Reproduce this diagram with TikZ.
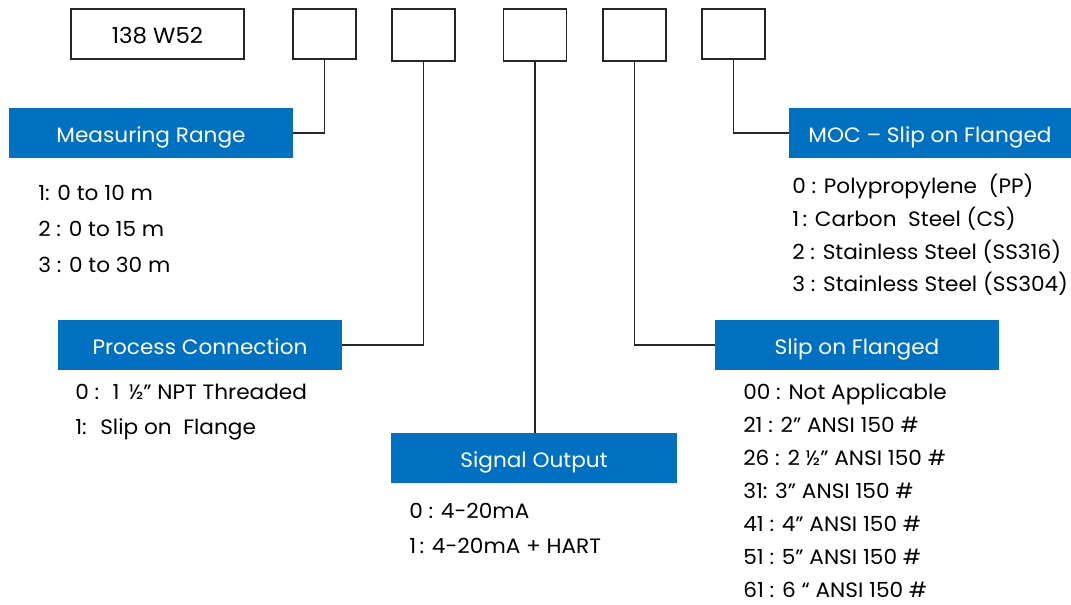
\documentclass[tikz,border=0pt]{standalone}
\usepackage{fontspec}
\setmainfont{Poppins}[FakeStretch=1.04]
\definecolor{hdrblue}{HTML}{0070C0}
\definecolor{ink}{HTML}{262626}

\begin{document}
\begin{tikzpicture}[x=0.75pt,y=-0.75pt,
  codebox/.style={draw=ink, line width=1.4pt, fill=white, inner sep=0pt,
    minimum width=47.25pt, minimum height=37.5pt, text height=14pt, text depth=0pt,
    font=\fontsize{16.5}{20}\selectfont},
  header/.style={fill=hdrblue, text=white, inner sep=0pt, minimum width=213pt,
    minimum height=37.5pt, text height=14.4pt, text depth=0pt,
    font=\fontsize{15.6}{18}\selectfont},
  item/.style={anchor=base west, inner sep=0pt, text=black,
    font=\fontsize{15.6}{18}\selectfont},
  link/.style={draw=ink, line width=1.4pt}
]
\useasboundingbox (0,0) rectangle (1071,605);

% order code boxes
\node[codebox, minimum width=129.75pt] (b0) at (157.5,34) {138 W52};
\node[codebox] (b1) at (324.5,34) {};
\node[codebox, minimum height=39pt] (b2) at (423.5,35) {};
\node[codebox, minimum height=39pt] (b3) at (535,35) {};
\node[codebox, minimum height=39pt] (b4) at (634.5,35) {};
\node[codebox] (b5) at (733.5,34) {};

% section headers
\node[header] (mr) at (151,133) {Measuring Range};
\node[header] (pc) at (200,345) {Process Connection};
\node[header, minimum width=214.5pt] (so) at (534,458) {Signal Output};
\node[header] (sf) at (857,345) {Slip on Flanged};
\node[header, minimum width=211.5pt] (moc) at (930,133) {MOC – Slip on Flanged};

% connectors
\draw[link] (b1.south) |- (mr.east);
\draw[link] (b2.south) |- (pc.east);
\draw[link] (b3.south) -- (b3.south |- so.north);
\draw[link] (b4.south) |- (sf.west);
\draw[link] (b5.south) |- (moc.west);

% option lists
\foreach \t [count=\i] in {{1: 0 to 10 m},{2 : 0 to 15 m},{3 : 0 to 30 m}}
  \node[item] (mr\i) at (38,{200.5+36*(\i-1)}) {\t};
\foreach \t [count=\i] in {{0 : Polypropylene \ (PP)},{1\,: Carbon \ Steel (CS)},
    {2 : Stainless Steel (SS316)},{3 : Stainless Steel (SS304)}}
  \node[item] (moc\i) at (792,{193.3+32.9*(\i-1)}) {\t};
\foreach \t [count=\i] in {{0 : \ 1 \,½” NPT Threaded},{1: \ Slip on \ Flange}}
  \node[item] (pc\i) at (75,{400+34.3*(\i-1)}) {\t};
\foreach \t [count=\i] in {{0 : 4-20mA},{1\,: 4-20mA + HART}}
  \node[item] (so\i) at (409,{519+35*(\i-1)}) {\t};
\foreach \t [count=\i] in {{00 : Not Applicable},{21 : 2” ANSI 150 \#},{26 : 2 ½” ANSI 150 \#},
    {31: 3” ANSI 150 \#},{41 : 4” ANSI 150 \#},{51 : 5” ANSI 150 \#},{61 : 6 “ ANSI 150 \#}}
  \node[item] (sf\i) at (743,{399.3+33.05*(\i-1)}) {\t};
\end{tikzpicture}
\end{document}
